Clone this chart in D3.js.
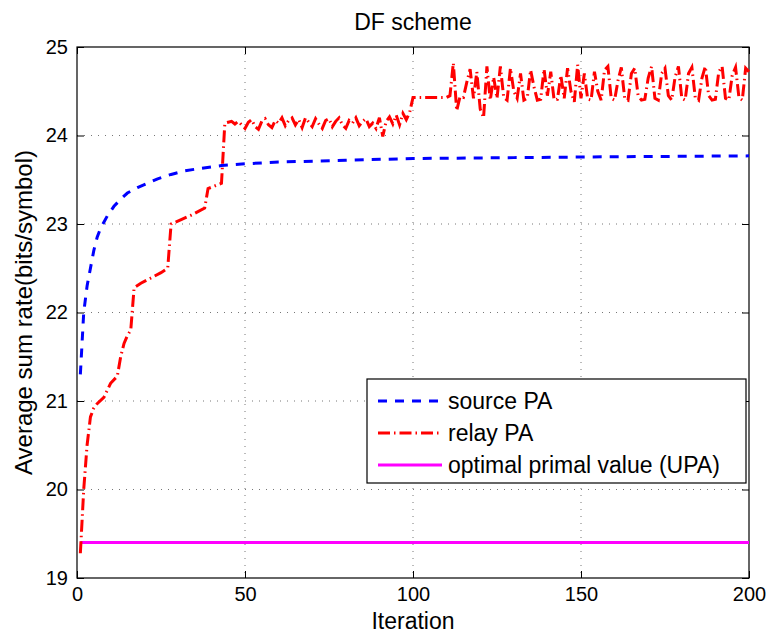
<!DOCTYPE html>
<html lang="en">
<head>
  <meta charset="UTF-8">
  <script src="https://d3js.org/d3.v7.min.js"></script>
  <title>DF scheme</title>
  <style>
    body { margin: 0; background: #fff; }
    svg text { font-family: "Liberation Sans", Arial, sans-serif; fill: #000; }
  </style>
</head>
<body>
  <div id="chart"></div>
  <script>
    // values
    const xTicks = [0, 50, 100, 150, 200];
    const yTicks = [19, 20, 21, 22, 23, 24, 25];

    // source PA: [iteration, rate]
    const sourcePA = [
      [1, 21.3], [2, 22.0], [3, 22.3], [4, 22.5], [5, 22.7], [6, 22.85], [7, 22.95],
      [8, 23.02], [9, 23.09], [11, 23.2], [13, 23.28], [15, 23.35], [18, 23.41],
      [21, 23.46], [24, 23.51], [28, 23.56], [32, 23.6], [37, 23.63], [43, 23.66],
      [50, 23.68], [60, 23.7], [80, 23.72], [100, 23.74], [130, 23.75], [160, 23.76],
      [200, 23.77]
    ];

    // relay PA: [iteration, rate]
    const relayPA = [
      [1, 19.28], [2, 20.0], [3, 20.5], [4, 20.82], [5, 20.92], [6, 20.97], [8, 21.04],
      [10, 21.2], [12, 21.28], [13, 21.5], [14, 21.65], [15, 21.74], [16, 21.8], [17, 22.28],
      [19, 22.33], [22, 22.39], [25, 22.45], [27, 22.5], [28, 23.0], [31, 23.05], [34, 23.1],
      [38, 23.18], [39, 23.4], [41, 23.43], [43, 23.46], [44, 24.14],
      [45, 24.15], [46, 24.16], [47, 24.13], [48, 24.16], [49, 24.12], [50, 24.08],
      [51, 24.15], [52, 24.18], [53, 24.1], [54, 24.07], [55, 24.16], [56, 24.19],
      [57, 24.12], [58, 24.09], [59, 24.17], [60, 24.14], [61, 24.2], [62, 24.11],
      [63, 24.17], [64, 24.2], [65, 24.12], [66, 24.18], [67, 24.09], [68, 24.2],
      [69, 24.15], [70, 24.1], [71, 24.19], [72, 24.13], [73, 24.08], [74, 24.17],
      [75, 24.19], [76, 24.1], [77, 24.16], [78, 24.2], [79, 24.12], [80, 24.08],
      [81, 24.17], [82, 24.14], [83, 24.2], [84, 24.11], [85, 24.16], [86, 24.19],
      [87, 24.1], [88, 24.14], [89, 24.08], [90, 24.2], [91, 23.99], [92, 24.16],
      [93, 24.21], [94, 24.13], [95, 24.23], [96, 24.12], [97, 24.25], [98, 24.18],
      [99, 24.26], [100, 24.43], [105, 24.43], [110, 24.43],
      [111, 24.45], [112, 24.82], [113, 24.28], [114, 24.44], [115, 24.43], [116, 24.6],
      [117, 24.75], [118, 24.42], [119, 24.72], [120, 24.3], [121, 24.2], [122, 24.78],
      [123, 24.4], [124, 24.66], [125, 24.42], [126, 24.78], [127, 24.43], [128, 24.4],
      [129, 24.76], [130, 24.5], [131, 24.42], [132, 24.7], [133, 24.4], [134, 24.42],
      [135, 24.74], [136, 24.55], [137, 24.4], [138, 24.41], [139, 24.75], [140, 24.45],
      [141, 24.72], [142, 24.4], [143, 24.41], [144, 24.68], [145, 24.42], [146, 24.76],
      [147, 24.5], [148, 24.38], [149, 24.8], [150, 24.42], [151, 24.7], [152, 24.41],
      [153, 24.4], [154, 24.72], [155, 24.5], [156, 24.4], [157, 24.74], [158, 24.78],
      [159, 24.42], [160, 24.4], [161, 24.62], [162, 24.77], [163, 24.42], [164, 24.4],
      [165, 24.7], [166, 24.76], [167, 24.45], [168, 24.4], [169, 24.41], [170, 24.65],
      [171, 24.78], [172, 24.42], [173, 24.4], [174, 24.7], [175, 24.76], [176, 24.45],
      [177, 24.4], [178, 24.66], [179, 24.78], [180, 24.42], [181, 24.4], [182, 24.7],
      [183, 24.77], [184, 24.43], [185, 24.4], [186, 24.65], [187, 24.78], [188, 24.45],
      [189, 24.4], [190, 24.41], [191, 24.72], [192, 24.78], [193, 24.42], [194, 24.4],
      [195, 24.68], [196, 24.77], [197, 24.43], [198, 24.4], [199, 24.76], [200, 24.72]
    ];

    // optimal primal value (UPA), constant
    const upaIters = [1, 200];
    const upaValue = 19.4;

    const seriesNames = ['source PA', 'relay PA', 'optimal primal value (UPA)'];

    const width = 768, height = 634;
    const margin = { top: 47, right: 19, bottom: 56, left: 77 };
    const plotW = width - margin.left - margin.right;
    const plotH = height - margin.top - margin.bottom;

    const svg = d3.select('#chart').append('svg')
      .attr('width', width)
      .attr('height', height);

    const g = svg.append('g')
      .attr('transform', `translate(${margin.left},${margin.top})`);

    const x = d3.scaleLinear().domain([0, 200]).range([0, plotW]);
    const y = d3.scaleLinear().domain([19, 25]).range([plotH, 0]);

    // dotted grid
    g.append('g').selectAll('line')
      .data(xTicks.slice(1, -1))
      .enter().append('line')
      .attr('x1', d => x(d)).attr('x2', d => x(d))
      .attr('y1', 0).attr('y2', plotH)
      .attr('stroke', '#777').attr('stroke-width', 1)
      .attr('stroke-dasharray', '1,6');

    g.append('g').selectAll('line')
      .data(yTicks.slice(1, -1))
      .enter().append('line')
      .attr('x1', 0).attr('x2', plotW)
      .attr('y1', d => y(d)).attr('y2', d => y(d))
      .attr('stroke', '#777').attr('stroke-width', 1)
      .attr('stroke-dasharray', '1,6');

    // axes, ticks pointing inward on all four sides
    const axisStyle = sel => {
      sel.select('.domain').remove();
      sel.selectAll('line').attr('stroke', '#000');
      sel.selectAll('text').style('font-size', '20px').style('font-family', '"Liberation Sans", Arial, sans-serif');
    };

    g.append('g')
      .attr('transform', `translate(0,${plotH})`)
      .call(d3.axisBottom(x).tickValues(xTicks).tickSize(-7).tickPadding(9).tickFormat(d3.format('d')))
      .call(axisStyle);

    g.append('g')
      .call(d3.axisTop(x).tickValues(xTicks).tickSize(-7).tickFormat(''))
      .call(axisStyle);

    g.append('g')
      .call(d3.axisLeft(y).tickValues(yTicks).tickSize(-7).tickPadding(9).tickFormat(d3.format('d')))
      .call(axisStyle);

    g.append('g')
      .attr('transform', `translate(${plotW},0)`)
      .call(d3.axisRight(y).tickValues(yTicks).tickSize(-7).tickFormat(''))
      .call(axisStyle);

    g.append('rect')
      .attr('width', plotW).attr('height', plotH)
      .attr('fill', 'none').attr('stroke', '#000').attr('stroke-width', 1.2);

    const line = d3.line().x(d => x(d[0])).y(d => y(d[1]));

    g.append('path')
      .datum(upaIters.map(i => [i, upaValue]))
      .attr('d', line)
      .attr('fill', 'none').attr('stroke', '#ff00ff').attr('stroke-width', 3);

    g.append('path')
      .datum(sourcePA)
      .attr('d', line)
      .attr('fill', 'none').attr('stroke', '#0000ff').attr('stroke-width', 3)
      .attr('stroke-dasharray', '9,8');

    g.append('path')
      .datum(relayPA)
      .attr('d', line)
      .attr('fill', 'none').attr('stroke', '#ff0000').attr('stroke-width', 3)
      .attr('stroke-dasharray', '12,4,1.5,4');

    // legend
    const legend = svg.append('g').attr('transform', 'translate(367,379)');
    legend.append('rect')
      .attr('width', 379).attr('height', 104)
      .attr('fill', '#fff').attr('stroke', '#000').attr('stroke-width', 1.2);

    const legendStyles = [
      { color: '#0000ff', dash: '9,8' },
      { color: '#ff0000', dash: '12,4,1.5,4' },
      { color: '#ff00ff', dash: null }
    ];

    const items = legend.selectAll('g.item')
      .data(seriesNames)
      .enter().append('g')
      .attr('class', 'item')
      .attr('transform', (d, i) => `translate(0,${22 + i * 32})`);

    items.append('line')
      .attr('x1', 11).attr('x2', 75)
      .attr('stroke', (d, i) => legendStyles[i].color)
      .attr('stroke-width', 3)
      .attr('stroke-dasharray', (d, i) => legendStyles[i].dash);

    items.append('text')
      .attr('x', 81).attr('y', 8)
      .style('font-size', '23px')
      .text(d => d);

    // titles
    svg.append('text')
      .attr('x', margin.left + plotW / 2).attr('y', 30)
      .attr('text-anchor', 'middle')
      .style('font-size', '23px')
      .text('DF scheme');

    svg.append('text')
      .attr('x', margin.left + plotW / 2).attr('y', 629)
      .attr('text-anchor', 'middle')
      .style('font-size', '23px')
      .text('Iteration');

    svg.append('text')
      .attr('transform', `translate(32,${margin.top + plotH / 2}) rotate(-90)`)
      .attr('text-anchor', 'middle')
      .style('font-size', '24px')
      .text('Average sum rate(bits/symbol)');
  </script>
</body>
</html>
